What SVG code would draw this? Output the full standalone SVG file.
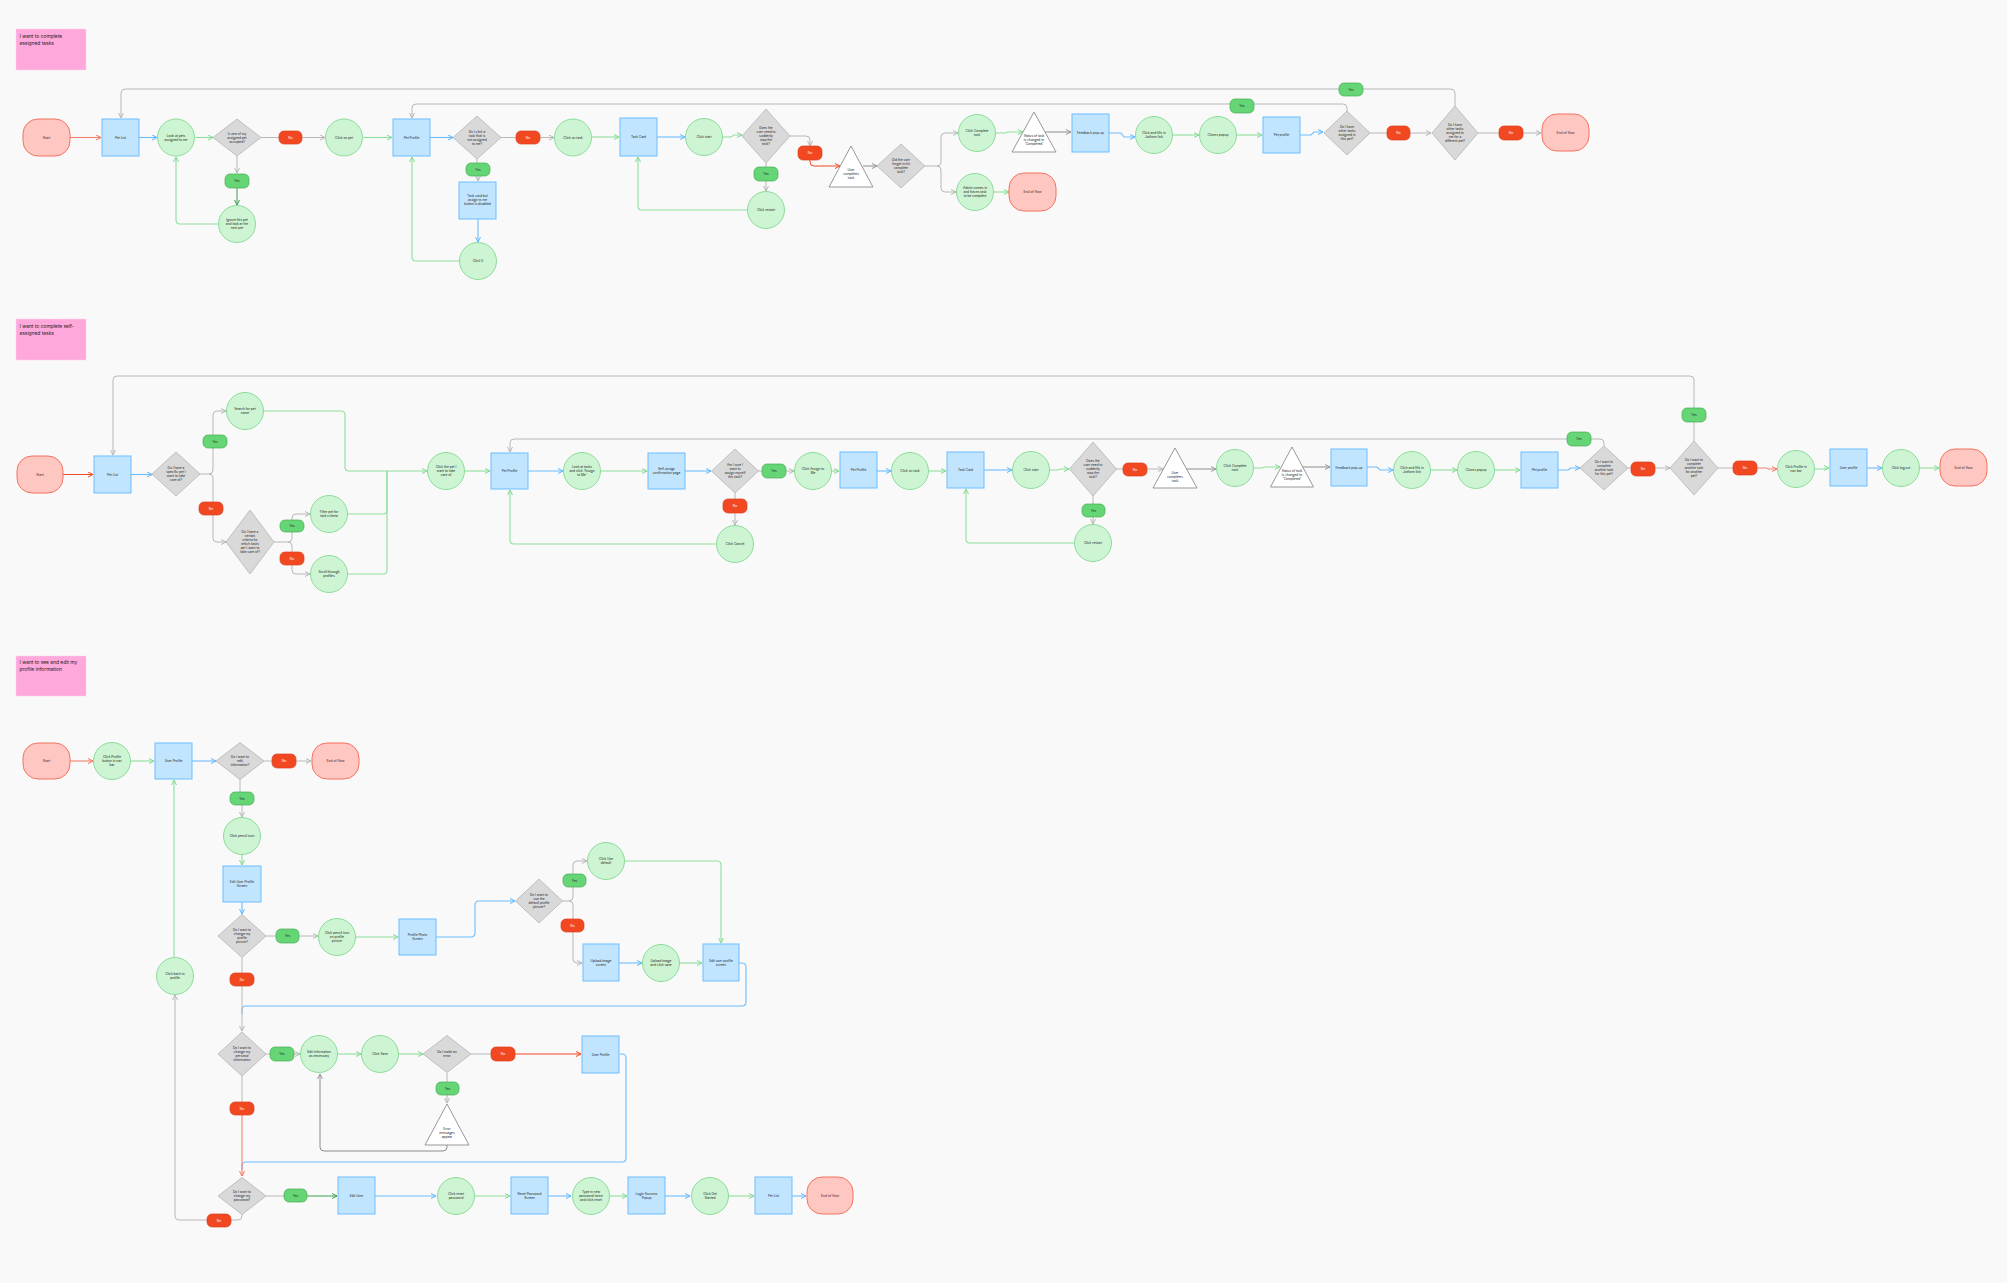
<svg xmlns="http://www.w3.org/2000/svg" width="2007" height="1283" viewBox="0 0 2007 1283">
<style>
.bg{fill:#F9F9F9}
.sticky{fill:#FFA8DB;stroke:#FFD0EC;stroke-width:0.8;stroke-dasharray:1.5 1}
.term{fill:#FFC7C2;stroke:#F4735F;stroke-width:1}
.scr{fill:#C2E5FF;stroke:#6CBDFF;stroke-width:1}
.act{fill:#CDF4D3;stroke:#8CDD9A;stroke-width:1}
.dec{fill:#D9D9D9;stroke:#B5B5B5;stroke-width:0.8}
.tri{fill:#FFFFFF;stroke:#8C8C8C;stroke-width:0.9}
.yes{fill:#66D575;stroke:#45AE54;stroke-width:0.7}
.no{fill:#F24822;stroke:#DC3F1E;stroke-width:0.7}
.t{font-family:Inter,"Noto Sans",sans-serif;font-size:3.2px;fill:#1E1E1E;text-anchor:middle}
.tt{font-family:Inter,"Noto Sans",sans-serif;font-size:3.4px;fill:#3A1E2A;text-anchor:middle}
.tw{font-family:Inter,"Noto Sans",sans-serif;font-size:3.2px;fill:#FFFFFF;text-anchor:middle}
.ts{font-family:Inter,"Noto Sans",sans-serif;font-size:4.9px;fill:#2A1A24}
.cg{fill:none;stroke:#B8B8B8;stroke-width:1}
.cd{fill:none;stroke:#8E8E8E;stroke-width:1}
.cb{fill:none;stroke:#6CBDFF;stroke-width:1.1}
.cgr{fill:none;stroke:#8FE09D;stroke-width:1.1}
.cr{fill:none;stroke:#F24822;stroke-width:1}
.cc{fill:none;stroke:#F4806E;stroke-width:1.1}
.cdg{fill:none;stroke:#3E9E4D;stroke-width:1}
</style>
<defs>
<marker id="ag" viewBox="0 0 6 6" refX="5.5" refY="3" markerWidth="6" markerHeight="6" markerUnits="userSpaceOnUse" orient="auto"><path d="M0.5,0.5 L5.5,3 L0.5,5.5" fill="none" stroke="#B0B0B0" stroke-width="0.9"/></marker>
<marker id="ad" viewBox="0 0 6 6" refX="5.5" refY="3" markerWidth="6" markerHeight="6" markerUnits="userSpaceOnUse" orient="auto"><path d="M0.5,0.5 L5.5,3 L0.5,5.5" fill="none" stroke="#8E8E8E" stroke-width="0.9"/></marker>
<marker id="ab" viewBox="0 0 6 6" refX="5.5" refY="3" markerWidth="6" markerHeight="6" markerUnits="userSpaceOnUse" orient="auto"><path d="M0.5,0.5 L5.5,3 L0.5,5.5" fill="none" stroke="#5DB5FF" stroke-width="1"/></marker>
<marker id="agr" viewBox="0 0 6 6" refX="5.5" refY="3" markerWidth="6" markerHeight="6" markerUnits="userSpaceOnUse" orient="auto"><path d="M0.5,0.5 L5.5,3 L0.5,5.5" fill="none" stroke="#7FD98F" stroke-width="1"/></marker>
<marker id="ar" viewBox="0 0 6 6" refX="5.5" refY="3" markerWidth="6" markerHeight="6" markerUnits="userSpaceOnUse" orient="auto"><path d="M0.5,0.5 L5.5,3 L0.5,5.5" fill="none" stroke="#F24822" stroke-width="1"/></marker>
<marker id="ac" viewBox="0 0 6 6" refX="5.5" refY="3" markerWidth="6" markerHeight="6" markerUnits="userSpaceOnUse" orient="auto"><path d="M0.5,0.5 L5.5,3 L0.5,5.5" fill="none" stroke="#F4735F" stroke-width="1"/></marker>
<marker id="adg" viewBox="0 0 6 6" refX="5.5" refY="3" markerWidth="6" markerHeight="6" markerUnits="userSpaceOnUse" orient="auto"><path d="M0.5,0.5 L5.5,3 L0.5,5.5" fill="none" stroke="#3E9E4D" stroke-width="1"/></marker>
</defs>
<rect class="bg" x="0" y="0" width="2007" height="1283"/>

<g id="connectors">
<!-- Row 1 -->
<path class="cc" d="M70,137.5 H101" marker-end="url(#ac)"/>
<path class="cb" d="M139,137.5 H157" marker-end="url(#ab)"/>
<path class="cgr" d="M195,137.5 H213" marker-end="url(#agr)"/>
<path class="cg" d="M261,137.5 H279"/>
<path class="cg" d="M302,137.5 H325" marker-end="url(#ag)"/>
<path class="cgr" d="M363,137.5 H392" marker-end="url(#agr)"/>
<path class="cb" d="M430,137.5 H453" marker-end="url(#ab)"/>
<path class="cg" d="M501,137.5 H516"/>
<path class="cg" d="M540,137.5 H554" marker-end="url(#ag)"/>
<path class="cgr" d="M592,137 H619" marker-end="url(#agr)"/>
<path class="cb" d="M657,137 H685" marker-end="url(#ab)"/>
<path class="cgr" d="M723,137 H731 L734,135 H742" marker-end="url(#agr)"/>
<path class="cg" d="M790,136 H806 Q810,136 810,140 V146" marker-end="url(#ag)"/>
<path class="cr" d="M810,160 V162 Q810,166 814,166 H840" marker-end="url(#ar)"/>
<path class="cd" d="M863,166 H877" marker-end="url(#ad)"/>
<path class="cg" d="M925,166 H937 Q941,166 941,162 V137 Q941,133 945,133 H958" marker-end="url(#ag)"/>
<path class="cg" d="M937,166 Q941,166 941,170 V188 Q941,192 945,192 H956" marker-end="url(#ag)"/>
<path class="cgr" d="M994,192 H1009" marker-end="url(#agr)"/>
<path class="cgr" d="M996,133 H1005 L1008,132 H1023" marker-end="url(#agr)"/>
<path class="cd" d="M1045,132 H1071" marker-end="url(#ad)"/>
<path class="cb" d="M1109,133 H1121 L1124,137 H1135" marker-end="url(#ab)"/>
<path class="cgr" d="M1173,135 H1199" marker-end="url(#agr)"/>
<path class="cgr" d="M1237,135 H1262" marker-end="url(#agr)"/>
<path class="cb" d="M1300,135 H1311 L1314,132 H1323" marker-end="url(#ab)"/>
<path class="cg" d="M1370,133 H1387"/>
<path class="cg" d="M1410,133 H1431" marker-end="url(#ag)"/>
<path class="cg" d="M1478,133 H1499"/>
<path class="cg" d="M1523,133 H1541" marker-end="url(#ag)"/>
<path class="cg" d="M1347,111 V108 Q1347,104 1343,104 H416 Q412,104 412,108 V118" marker-end="url(#ag)"/>
<path class="cg" d="M1455,106 V93 Q1455,89 1451,89 H125 Q121,89 121,93 V118" marker-end="url(#ag)"/>
<path class="cg" d="M237,156 V173" marker-end="url(#ag)"/>
<path class="cdg" d="M237,188 V205" marker-end="url(#adg)"/>
<path class="cgr" d="M218,224 H180 Q176,224 176,220 V157" marker-end="url(#agr)"/>
<path class="cg" d="M477,159 V163"/>
<path class="cg" d="M478,176 V181" marker-end="url(#ag)"/>
<path class="cb" d="M478,219 V242" marker-end="url(#ab)"/>
<path class="cgr" d="M459,261 H416 Q412,261 412,257 V157" marker-end="url(#agr)"/>
<path class="cg" d="M766,163 V167"/>
<path class="cg" d="M766,181 V191" marker-end="url(#ag)"/>
<path class="cgr" d="M747,210 H642 Q638,210 638,206 V157" marker-end="url(#agr)"/>

<!-- Row 2 -->
<path class="cr" d="M63,474.5 H93" marker-end="url(#ar)"/>
<path class="cb" d="M131,474.5 H152" marker-end="url(#ab)"/>
<path class="cg" d="M200,474 H209 Q213,474 213,470 V415 Q213,411 217,411 H226" marker-end="url(#ag)"/>
<path class="cg" d="M209,474 Q213,474 213,478 V538 Q213,542 217,542 H226" marker-end="url(#ag)"/>
<path class="cg" d="M274,542 H288 Q292,542 292,538 V518 Q292,514 296,514 H310" marker-end="url(#ag)"/>
<path class="cg" d="M288,542 Q292,542 292,546 V570 Q292,574 296,574 H310" marker-end="url(#ag)"/>
<path class="cgr" d="M264,411 H341 Q345,411 345,415 V467 Q345,471 349,471 H427" marker-end="url(#agr)"/>
<path class="cgr" d="M348,514 H383 Q387,514 387,510 V471"/>
<path class="cgr" d="M348,574 H383 Q387,574 387,570 V471"/>
<path class="cgr" d="M465,471 H490" marker-end="url(#agr)"/>
<path class="cb" d="M528,471 H563" marker-end="url(#ab)"/>
<path class="cgr" d="M601,471 H647" marker-end="url(#agr)"/>
<path class="cb" d="M685,471 H711" marker-end="url(#ab)"/>
<path class="cg" d="M758,471 H762"/>
<path class="cg" d="M786,471 H794" marker-end="url(#ag)"/>
<path class="cgr" d="M832,471 H839" marker-end="url(#agr)"/>
<path class="cb" d="M877,471 H891" marker-end="url(#ab)"/>
<path class="cgr" d="M929,471 H946" marker-end="url(#agr)"/>
<path class="cb" d="M984,470 H1012" marker-end="url(#ab)"/>
<path class="cgr" d="M1050,470 H1058 L1061,469 H1069" marker-end="url(#agr)"/>
<path class="cg" d="M1116,469 H1123"/>
<path class="cg" d="M1147,469 H1163" marker-end="url(#ag)"/>
<path class="cd" d="M1186,469 H1216" marker-end="url(#ad)"/>
<path class="cgr" d="M1254,468 H1262 L1265,467 H1280" marker-end="url(#agr)"/>
<path class="cd" d="M1303,467 H1330" marker-end="url(#ad)"/>
<path class="cb" d="M1367,467 H1377 L1380,470 H1393" marker-end="url(#ab)"/>
<path class="cgr" d="M1431,470 H1457" marker-end="url(#agr)"/>
<path class="cgr" d="M1495,470 H1520" marker-end="url(#agr)"/>
<path class="cb" d="M1558,470 H1568 L1571,468 H1580" marker-end="url(#ab)"/>
<path class="cg" d="M1628,468 H1631"/>
<path class="cg" d="M1655,468 H1670" marker-end="url(#ag)"/>
<path class="cg" d="M1718,468 H1733"/>
<path class="cc" d="M1757,468 H1766 L1769,469 H1777" marker-end="url(#ac)"/>
<path class="cgr" d="M1815,469 H1823 L1826,468 H1829" marker-end="url(#agr)"/>
<path class="cb" d="M1867,468 H1882" marker-end="url(#ab)"/>
<path class="cgr" d="M1920,468 H1939" marker-end="url(#agr)"/>
<path class="cg" d="M1604,446 V443 Q1604,439 1600,439 H514 Q510,439 510,443 V452" marker-end="url(#ag)"/>
<path class="cg" d="M1694,441 V380 Q1694,376 1690,376 H117 Q113,376 113,380 V455" marker-end="url(#ag)"/>
<path class="cg" d="M735,493 V499"/>
<path class="cg" d="M735,513 V525" marker-end="url(#ag)"/>
<path class="cgr" d="M716,544 H514 Q510,544 510,540 V490" marker-end="url(#agr)"/>
<path class="cg" d="M1093,496 V504"/>
<path class="cg" d="M1093,517 V524" marker-end="url(#ag)"/>
<path class="cgr" d="M1074,543 H970 Q966,543 966,539 V489" marker-end="url(#agr)"/>

<!-- Row 3 -->
<path class="cc" d="M70,761 H93" marker-end="url(#ac)"/>
<path class="cgr" d="M131,761 H154" marker-end="url(#agr)"/>
<path class="cb" d="M192,761 H216" marker-end="url(#ab)"/>
<path class="cg" d="M264,761 H272"/>
<path class="cg" d="M296,761 H311" marker-end="url(#ag)"/>
<path class="cg" d="M240,779 V792"/>
<path class="cg" d="M242,805 V817" marker-end="url(#ag)"/>
<path class="cgr" d="M242,855 V865" marker-end="url(#agr)"/>
<path class="cb" d="M242,902 V914" marker-end="url(#ab)"/>
<path class="cg" d="M266,936 H276"/>
<path class="cg" d="M299,936 H318" marker-end="url(#ag)"/>
<path class="cgr" d="M356,937 H398" marker-end="url(#agr)"/>
<path class="cb" d="M436,937 H471 Q475,937 475,933 V905 Q475,901 479,901 H515" marker-end="url(#ab)"/>
<path class="cg" d="M562,901 H569 Q573,901 573,897 V865 Q573,861 577,861 H587" marker-end="url(#ag)"/>
<path class="cg" d="M569,901 Q573,901 573,905 V959 Q573,963 577,963 H582" marker-end="url(#ag)"/>
<path class="cgr" d="M625,861 H717 Q721,861 721,865 V943" marker-end="url(#agr)"/>
<path class="cb" d="M619,963 H642" marker-end="url(#ab)"/>
<path class="cgr" d="M680,963 H702" marker-end="url(#agr)"/>
<path class="cb" d="M739,963 H742 Q746,963 746,967 V1002 Q746,1006 742,1006 H246 Q242,1006 242,1010 V1014"/>
<path class="cg" d="M242,958 V973"/>
<path class="cg" d="M242,986 V1031" marker-end="url(#ag)"/>
<path class="cg" d="M266,1054 H270"/>
<path class="cg" d="M294,1054 H300" marker-end="url(#ag)"/>
<path class="cgr" d="M337,1054 H361" marker-end="url(#agr)"/>
<path class="cgr" d="M398,1054 H423" marker-end="url(#agr)"/>
<path class="cg" d="M471,1054 H491"/>
<path class="cr" d="M515,1054 H581" marker-end="url(#ar)"/>
<path class="cb" d="M620,1054 H622 Q626,1054 626,1058 V1158 Q626,1162 622,1162 H246 Q242,1162 242,1166 V1170"/>
<path class="cg" d="M447,1073 V1082"/>
<path class="cg" d="M447,1095 V1103" marker-end="url(#ag)"/>
<path class="cd" d="M447,1145 V1147 Q447,1151 443,1151 H324 Q320,1151 320,1147 V1074" marker-end="url(#ad)"/>
<path class="cg" d="M242,1076 V1102"/>
<path class="cc" d="M242,1115 V1176" marker-end="url(#ac)"/>
<path class="cg" d="M266,1196 H284"/>
<path class="cdg" d="M307,1196 H337" marker-end="url(#adg)"/>
<path class="cb" d="M375,1196 H436" marker-end="url(#ab)"/>
<path class="cgr" d="M475,1196 H510" marker-end="url(#agr)"/>
<path class="cb" d="M548,1196 H571" marker-end="url(#ab)"/>
<path class="cgr" d="M610,1196 H627" marker-end="url(#agr)"/>
<path class="cb" d="M665,1196 H690" marker-end="url(#ab)"/>
<path class="cgr" d="M729,1196 H754" marker-end="url(#agr)"/>
<path class="cb" d="M792,1196 H806" marker-end="url(#ab)"/>
<path class="cg" d="M242,1214 V1216 Q242,1220 238,1220 H231"/>
<path class="cg" d="M207,1220 H179 Q175,1220 175,1216 V995" marker-end="url(#ag)"/>
<path class="cgr" d="M174,957 V780" marker-end="url(#agr)"/>
</g>

<!-- ROW 1 -->
<g id="note1"><rect class="sticky" x="16" y="29" width="70" height="41"/><text class="ts" x="19.5" y="38">I want to complete</text><text class="ts" x="19.5" y="45">assigned tasks</text></g>
<g id="r1-start"><rect class="term" x="23" y="119" width="47" height="37" rx="15"/><text class="tt" x="46.5" y="138.6">Start</text></g>
<g id="r1-petlist"><rect class="scr" x="102" y="119" width="37" height="37"/><text class="t" x="120.5" y="138.6">Pet List</text></g>
<g id="r1-look"><circle class="act" cx="176" cy="137.5" r="18.5"/><text class="t"><tspan x="176" y="136.6">Look at pets</tspan><tspan x="176" y="140.6">assigned to me</tspan></text></g>
<g id="r1-d1"><polygon class="dec" points="213,137.5 237,119 261,137.5 237,156"/><text class="t"><tspan x="237" y="134.6">Is one of my</tspan><tspan x="237" y="138.6">assigned pet</tspan><tspan x="237" y="142.6">occupied?</tspan></text></g>
<g id="r1-no1"><rect class="no" x="279" y="131" width="23" height="13" rx="5"/><text class="tw" x="290.5" y="138.6">No</text></g>
<g id="r1-clickpet"><circle class="act" cx="344" cy="137.5" r="18.5"/><text class="t" x="344" y="138.6">Click on pet</text></g>
<g id="r1-petprofile"><rect class="scr" x="393" y="119" width="37" height="37"/><text class="t" x="411.5" y="138.6">Pet Profile</text></g>
<g id="r1-d2"><polygon class="dec" points="453,137.5 477,116 501,137.5 477,159"/><text class="t"><tspan x="477" y="132.6">Do I click a</tspan><tspan x="477" y="136.6">task that is</tspan><tspan x="477" y="140.6">not assigned</tspan><tspan x="477" y="144.6">to me?</tspan></text></g>
<g id="r1-yes2"><rect class="yes" x="466" y="163" width="24" height="13" rx="5"/><text class="t" x="478" y="170.6">Yes</text></g>
<g id="r1-disabled"><rect class="scr" x="459" y="182" width="37" height="37"/><text class="t"><tspan x="477.5" y="197.1">Task card but</tspan><tspan x="477.5" y="201.1">assign to me</tspan><tspan x="477.5" y="205.1">button is disabled</tspan></text></g>
<g id="r1-clickx"><circle class="act" cx="478" cy="261" r="18.5"/><text class="t" x="478" y="262.1">Click X</text></g>
<g id="r1-yes1"><rect class="yes" x="225" y="174" width="24" height="14" rx="5"/><text class="t" x="237" y="182.1">Yes</text></g>
<g id="r1-ignore"><circle class="act" cx="237" cy="224" r="18.5"/><text class="t"><tspan x="237" y="221.1">Ignore this pet</tspan><tspan x="237" y="225.1">and look at the</tspan><tspan x="237" y="229.1">next pet</tspan></text></g>
<g id="r1-no2"><rect class="no" x="516" y="131" width="24" height="13" rx="5"/><text class="tw" x="528" y="138.6">No</text></g>
<g id="r1-clicktask"><circle class="act" cx="573" cy="137.5" r="18.5"/><text class="t" x="573" y="138.6">Click on task</text></g>
<g id="r1-taskcard"><rect class="scr" x="620" y="118" width="37" height="38"/><text class="t" x="638.5" y="138.1">Task Card</text></g>
<g id="r1-clickstart"><circle class="act" cx="704" cy="137" r="18.5"/><text class="t" x="704" y="138.1">Click start</text></g>
<g id="r1-d3"><polygon class="dec" points="742,136 766,109 790,136 766,163"/><text class="t"><tspan x="766" y="129.1">Does the</tspan><tspan x="766" y="133.1">user need to</tspan><tspan x="766" y="137.1">suddenly</tspan><tspan x="766" y="141.1">stop the</tspan><tspan x="766" y="145.1">task?</tspan></text></g>
<g id="r1-no3"><rect class="no" x="798" y="146" width="24" height="14" rx="5"/><text class="tw" x="810" y="154.1">No</text></g>
<g id="r1-yes3"><rect class="yes" x="754" y="167" width="24" height="14" rx="5"/><text class="t" x="766" y="175.1">Yes</text></g>
<g id="r1-restart"><circle class="act" cx="766" cy="210" r="18.5"/><text class="t" x="766" y="211.1">Click restart</text></g>
<g id="r1-tri1"><polygon class="tri" points="851,146 873,187 829,187" stroke-linejoin="round"/><text class="t"><tspan x="851" y="171.1">User</tspan><tspan x="851" y="175.1">completes</tspan><tspan x="851" y="179.1">task</tspan></text></g>
<g id="r1-d4"><polygon class="dec" points="877,166 901,144 925,166 901,188"/><text class="t"><tspan x="901" y="161.1">Did the user</tspan><tspan x="901" y="165.1">forget to hit</tspan><tspan x="901" y="169.1">complete</tspan><tspan x="901" y="173.1">task?</tspan></text></g>
<g id="r1-complete"><circle class="act" cx="977" cy="133" r="18.5"/><text class="t"><tspan x="977" y="132.1">Click Complete</tspan><tspan x="977" y="136.1">task</tspan></text></g>
<g id="r1-admin"><circle class="act" cx="975" cy="192" r="18.5"/><text class="t"><tspan x="975" y="189.1">Admin comes in</tspan><tspan x="975" y="193.1">and forces task</tspan><tspan x="975" y="197.1">to be complete</tspan></text></g>
<g id="r1-end1"><rect class="term" x="1009" y="173" width="47" height="38" rx="15"/><text class="tt" x="1032.5" y="193.1">End of flow</text></g>
<g id="r1-tri2"><polygon class="tri" points="1034,112 1056,152 1012,152" stroke-linejoin="round"/><text class="t"><tspan x="1034" y="137.1">Status of task</tspan><tspan x="1034" y="141.1">is changed to</tspan><tspan x="1034" y="145.1">'Completed'</tspan></text></g>
<g id="r1-feedback"><rect class="scr" x="1072" y="114" width="37" height="38"/><text class="t" x="1090.5" y="134.1">Feedback pop-up</text></g>
<g id="r1-form"><circle class="act" cx="1154" cy="135" r="18.5"/><text class="t"><tspan x="1154" y="134.1">Click and fills in</tspan><tspan x="1154" y="138.1">Jotform link</tspan></text></g>
<g id="r1-closes"><circle class="act" cx="1218" cy="135" r="18.5"/><text class="t" x="1218" y="136.1">Closes popup</text></g>
<g id="r1-petprofile2"><rect class="scr" x="1263" y="117" width="37" height="36"/><text class="t" x="1281.5" y="136.1">Pet profile</text></g>
<g id="r1-d5"><polygon class="dec" points="1324,133 1347,111 1370,133 1347,155"/><text class="t"><tspan x="1347" y="128.1">Do I have</tspan><tspan x="1347" y="132.1">other tasks</tspan><tspan x="1347" y="136.1">assigned in</tspan><tspan x="1347" y="140.1">this pet?</tspan></text></g>
<g id="r1-yes4"><rect class="yes" x="1230" y="99" width="24" height="14" rx="5"/><text class="t" x="1242" y="107.1">Yes</text></g>
<g id="r1-no5"><rect class="no" x="1387" y="126" width="23" height="14" rx="5"/><text class="tw" x="1398.5" y="134.1">No</text></g>
<g id="r1-d6"><polygon class="dec" points="1432,133 1455,106 1478,133 1455,160"/><text class="t"><tspan x="1455" y="126.1">Do I have</tspan><tspan x="1455" y="130.1">other tasks</tspan><tspan x="1455" y="134.1">assigned to</tspan><tspan x="1455" y="138.1">me for a</tspan><tspan x="1455" y="142.1">different pet?</tspan></text></g>
<g id="r1-yes5"><rect class="yes" x="1339" y="83" width="24" height="13" rx="5"/><text class="t" x="1351" y="90.6">Yes</text></g>
<g id="r1-no6"><rect class="no" x="1499" y="126" width="24" height="14" rx="5"/><text class="tw" x="1511" y="134.1">No</text></g>
<g id="r1-end2"><rect class="term" x="1542" y="114" width="47" height="37" rx="15"/><text class="tt" x="1565.5" y="133.6">End of flow</text></g>

<!-- ROW 2 -->
<g id="note2"><rect class="sticky" x="16" y="319" width="70" height="41"/><text class="ts" x="19.5" y="328">I want to complete self-</text><text class="ts" x="19.5" y="335">assigned tasks</text></g>
<g id="r2-start"><rect class="term" x="17" y="456" width="46" height="37" rx="15"/><text class="tt" x="40" y="475.6">Start</text></g>
<g id="r2-petlist"><rect class="scr" x="94" y="456" width="37" height="37"/><text class="t" x="112.5" y="475.6">Pet List</text></g>
<g id="r2-d1"><polygon class="dec" points="152,474 176,452 200,474 176,496"/><text class="t"><tspan x="176" y="469.1">Do I have a</tspan><tspan x="176" y="473.1">specific pet I</tspan><tspan x="176" y="477.1">want to take</tspan><tspan x="176" y="481.1">care of?</tspan></text></g>
<g id="r2-yes1"><rect class="yes" x="203" y="435" width="24" height="13" rx="5"/><text class="t" x="215" y="442.6">Yes</text></g>
<g id="r2-search"><circle class="act" cx="245" cy="411" r="18.5"/><text class="t"><tspan x="245" y="410.1">Search for pet</tspan><tspan x="245" y="414.1">name</tspan></text></g>
<g id="r2-no1"><rect class="no" x="199" y="502" width="24" height="13" rx="5"/><text class="tw" x="211" y="509.6">No</text></g>
<g id="r2-d2"><polygon class="dec" points="226,542 250,510 274,542 250,574"/><text class="t"><tspan x="250" y="533.1">Do I have a</tspan><tspan x="250" y="537.1">certain</tspan><tspan x="250" y="541.1">criteria for</tspan><tspan x="250" y="545.1">which tasks</tspan><tspan x="250" y="549.1">pet I want to</tspan><tspan x="250" y="553.1">take care of?</tspan></text></g>
<g id="r2-yes2"><rect class="yes" x="280" y="520" width="24" height="12" rx="5"/><text class="t" x="292" y="527.1">Yes</text></g>
<g id="r2-filter"><circle class="act" cx="329" cy="514" r="18.5"/><text class="t"><tspan x="329" y="513.1">Filter pet for</tspan><tspan x="329" y="517.1">task criteria</tspan></text></g>
<g id="r2-no2"><rect class="no" x="280" y="552" width="24" height="13" rx="5"/><text class="tw" x="292" y="559.6">No</text></g>
<g id="r2-scroll"><circle class="act" cx="329" cy="574" r="18.5"/><text class="t"><tspan x="329" y="573.1">Scroll through</tspan><tspan x="329" y="577.1">profiles</tspan></text></g>
<g id="r2-clickpet"><circle class="act" cx="446" cy="471" r="18.5"/><text class="t"><tspan x="446" y="468.1">Click the pet I</tspan><tspan x="446" y="472.1">want to take</tspan><tspan x="446" y="476.1">care of</tspan></text></g>
<g id="r2-petprofile"><rect class="scr" x="491" y="453" width="37" height="36"/><text class="t" x="509.5" y="472.1">Pet Profile</text></g>
<g id="r2-look"><circle class="act" cx="582" cy="471" r="18.5"/><text class="t"><tspan x="582" y="468.1">Look at tasks</tspan><tspan x="582" y="472.1">and click 'Assign</tspan><tspan x="582" y="476.1">to Me'</tspan></text></g>
<g id="r2-confirm"><rect class="scr" x="648" y="453" width="37" height="36"/><text class="t"><tspan x="666.5" y="470.1">Self-assign</tspan><tspan x="666.5" y="474.1">confirmation page</tspan></text></g>
<g id="r2-d3"><polygon class="dec" points="711.5,471 735,449 758.5,471 735,493"/><text class="t"><tspan x="735" y="466.1">Am I sure I</tspan><tspan x="735" y="470.1">want to</tspan><tspan x="735" y="474.1">assign myself</tspan><tspan x="735" y="478.1">this task?</tspan></text></g>
<g id="r2-yes3"><rect class="yes" x="762" y="464" width="24" height="14" rx="5"/><text class="t" x="774" y="472.1">Yes</text></g>
<g id="r2-assign"><circle class="act" cx="813" cy="471" r="18.5"/><text class="t"><tspan x="813" y="470.1">Click Assign to</tspan><tspan x="813" y="474.1">Me</tspan></text></g>
<g id="r2-no3"><rect class="no" x="723" y="499" width="24" height="14" rx="5"/><text class="tw" x="735" y="507.1">No</text></g>
<g id="r2-cancel"><circle class="act" cx="735" cy="544" r="18.5"/><text class="t" x="735" y="545.1">Click Cancel</text></g>
<g id="r2-petprofile2"><rect class="scr" x="840" y="452" width="37" height="36"/><text class="t" x="858.5" y="471.1">Pet Profile</text></g>
<g id="r2-clicktask"><circle class="act" cx="910" cy="471" r="18.5"/><text class="t" x="910" y="472.1">Click on task</text></g>
<g id="r2-taskcard"><rect class="scr" x="947" y="452" width="37" height="36"/><text class="t" x="965.5" y="471.1">Task Card</text></g>
<g id="r2-clickstart"><circle class="act" cx="1031" cy="470" r="18.5"/><text class="t" x="1031" y="471.1">Click start</text></g>
<g id="r2-d4"><polygon class="dec" points="1069.5,469 1093,442 1116.5,469 1093,496"/><text class="t"><tspan x="1093" y="462.1">Does the</tspan><tspan x="1093" y="466.1">user need to</tspan><tspan x="1093" y="470.1">suddenly</tspan><tspan x="1093" y="474.1">stop the</tspan><tspan x="1093" y="478.1">task?</tspan></text></g>
<g id="r2-no4"><rect class="no" x="1123" y="463" width="24" height="13" rx="5"/><text class="tw" x="1135" y="470.6">No</text></g>
<g id="r2-yes4"><rect class="yes" x="1082" y="504" width="23" height="13" rx="5"/><text class="t" x="1093.5" y="511.6">Yes</text></g>
<g id="r2-restart"><circle class="act" cx="1093" cy="543" r="18.5"/><text class="t" x="1093" y="544.1">Click restart</text></g>
<g id="r2-tri1"><polygon class="tri" points="1175,448 1197,488 1153,488" stroke-linejoin="round"/><text class="t"><tspan x="1175" y="474.1">User</tspan><tspan x="1175" y="478.1">completes</tspan><tspan x="1175" y="482.1">task</tspan></text></g>
<g id="r2-complete"><circle class="act" cx="1235" cy="468" r="18.5"/><text class="t"><tspan x="1235" y="467.1">Click Complete</tspan><tspan x="1235" y="471.1">task</tspan></text></g>
<g id="r2-tri2"><polygon class="tri" points="1292,447 1313.5,487 1270.5,487" stroke-linejoin="round"/><text class="t"><tspan x="1292" y="472.1">Status of task</tspan><tspan x="1292" y="476.1">is changed to</tspan><tspan x="1292" y="480.1">'Completed'</tspan></text></g>
<g id="r2-feedback"><rect class="scr" x="1331" y="449" width="36" height="37"/><text class="t" x="1349" y="468.6">Feedback pop-up</text></g>
<g id="r2-form"><circle class="act" cx="1412" cy="470" r="18.5"/><text class="t"><tspan x="1412" y="469.1">Click and fills in</tspan><tspan x="1412" y="473.1">Jotform link</tspan></text></g>
<g id="r2-closes"><circle class="act" cx="1476" cy="470" r="18.5"/><text class="t" x="1476" y="471.1">Closes popup</text></g>
<g id="r2-petprofile3"><rect class="scr" x="1521" y="452" width="37" height="36"/><text class="t" x="1539.5" y="471.1">Pet profile</text></g>
<g id="r2-d5"><polygon class="dec" points="1580,468 1604,446 1628,468 1604,490"/><text class="t"><tspan x="1604" y="463.1">Do I want to</tspan><tspan x="1604" y="467.1">complete</tspan><tspan x="1604" y="471.1">another task</tspan><tspan x="1604" y="475.1">for this pet?</tspan></text></g>
<g id="r2-yes5"><rect class="yes" x="1567" y="432" width="24" height="14" rx="5"/><text class="t" x="1579" y="440.1">Yes</text></g>
<g id="r2-no5"><rect class="no" x="1631" y="462" width="24" height="14" rx="5"/><text class="tw" x="1643" y="470.1">No</text></g>
<g id="r2-d6"><polygon class="dec" points="1670,468 1694,441 1718,468 1694,495"/><text class="t"><tspan x="1694" y="461.1">Do I want to</tspan><tspan x="1694" y="465.1">complete</tspan><tspan x="1694" y="469.1">another task</tspan><tspan x="1694" y="473.1">for another</tspan><tspan x="1694" y="477.1">pet?</tspan></text></g>
<g id="r2-yes6"><rect class="yes" x="1682" y="408" width="24" height="14" rx="5"/><text class="t" x="1694" y="416.1">Yes</text></g>
<g id="r2-no6"><rect class="no" x="1733" y="461" width="24" height="14" rx="5"/><text class="tw" x="1745" y="469.1">No</text></g>
<g id="r2-navprofile"><circle class="act" cx="1796" cy="469" r="18.5"/><text class="t"><tspan x="1796" y="468.1">Click Profile in</tspan><tspan x="1796" y="472.1">nav bar</tspan></text></g>
<g id="r2-userprofile"><rect class="scr" x="1830" y="449" width="37" height="37"/><text class="t" x="1848.5" y="468.6">User profile</text></g>
<g id="r2-logout"><circle class="act" cx="1901" cy="468" r="18.5"/><text class="t" x="1901" y="469.1">Click log out</text></g>
<g id="r2-end"><rect class="term" x="1940" y="449" width="47" height="37" rx="15"/><text class="tt" x="1963.5" y="468.6">End of flow</text></g>

<!-- ROW 3 -->
<g id="note3"><rect class="sticky" x="16" y="656" width="70" height="40"/><text class="ts" x="19.5" y="664">I want to see and edit my</text><text class="ts" x="19.5" y="671">profile information</text></g>
<g id="r3-start"><rect class="term" x="23" y="743" width="47" height="36" rx="15"/><text class="tt" x="46.5" y="762.1">Start</text></g>
<g id="r3-navbtn"><circle class="act" cx="112" cy="761" r="18.5"/><text class="t"><tspan x="112" y="758.1">Click Profile</tspan><tspan x="112" y="762.1">button in nav</tspan><tspan x="112" y="766.1">bar</tspan></text></g>
<g id="r3-userprofile"><rect class="scr" x="155" y="743" width="37" height="36"/><text class="t" x="173.5" y="762.1">User Profile</text></g>
<g id="r3-d1"><polygon class="dec" points="216,761 240,742.5 264,761 240,779.5"/><text class="t"><tspan x="240" y="758.1">Do I want to</tspan><tspan x="240" y="762.1">edit</tspan><tspan x="240" y="766.1">information?</tspan></text></g>
<g id="r3-no1"><rect class="no" x="272" y="754" width="24" height="14" rx="5"/><text class="tw" x="284" y="762.1">No</text></g>
<g id="r3-end1"><rect class="term" x="312" y="743" width="47" height="36" rx="15"/><text class="tt" x="335.5" y="762.1">End of flow</text></g>
<g id="r3-yes1"><rect class="yes" x="230" y="792" width="24" height="13" rx="5"/><text class="t" x="242" y="799.6">Yes</text></g>
<g id="r3-pencil"><circle class="act" cx="242" cy="836" r="18.5"/><text class="t" x="242" y="837.1">Click pencil icon</text></g>
<g id="r3-editscreen"><rect class="scr" x="223" y="866" width="38" height="36"/><text class="t"><tspan x="242" y="883.1">Edit User Profile</tspan><tspan x="242" y="887.1">Screen</tspan></text></g>
<g id="r3-d2"><polygon class="dec" points="218,936 242,914.5 266,936 242,957.5"/><text class="t"><tspan x="242" y="931.1">Do I want to</tspan><tspan x="242" y="935.1">change my</tspan><tspan x="242" y="939.1">profile</tspan><tspan x="242" y="943.1">picture?</tspan></text></g>
<g id="r3-yes2"><rect class="yes" x="276" y="929" width="23" height="14" rx="5"/><text class="t" x="287.5" y="937.1">Yes</text></g>
<g id="r3-pencilpic"><circle class="act" cx="337" cy="937" r="18.5"/><text class="t"><tspan x="337" y="934.1">Click pencil icon</tspan><tspan x="337" y="938.1">on profile</tspan><tspan x="337" y="942.1">picture</tspan></text></g>
<g id="r3-photoscreen"><rect class="scr" x="399" y="919" width="37" height="36"/><text class="t"><tspan x="417.5" y="936.1">Profile Photo</tspan><tspan x="417.5" y="940.1">Screen</tspan></text></g>
<g id="r3-d3"><polygon class="dec" points="515.5,901 539,879 562.5,901 539,923"/><text class="t"><tspan x="539" y="896.1">Do I want to</tspan><tspan x="539" y="900.1">use the</tspan><tspan x="539" y="904.1">default profile</tspan><tspan x="539" y="908.1">picture?</tspan></text></g>
<g id="r3-yes3"><rect class="yes" x="563" y="874" width="23" height="13" rx="5"/><text class="t" x="574.5" y="881.6">Yes</text></g>
<g id="r3-usedefault"><circle class="act" cx="606" cy="861" r="18.5"/><text class="t"><tspan x="606" y="860.1">Click Use</tspan><tspan x="606" y="864.1">default</tspan></text></g>
<g id="r3-no2"><rect class="no" x="561" y="919" width="23" height="13" rx="5"/><text class="tw" x="572.5" y="926.6">No</text></g>
<g id="r3-uploadscreen"><rect class="scr" x="583" y="944" width="36" height="37"/><text class="t"><tspan x="601" y="961.6">Upload image</tspan><tspan x="601" y="965.6">screen</tspan></text></g>
<g id="r3-upload"><circle class="act" cx="661" cy="963" r="18.5"/><text class="t"><tspan x="661" y="962.1">Upload image</tspan><tspan x="661" y="966.1">and click save</tspan></text></g>
<g id="r3-editscreen2"><rect class="scr" x="703" y="944" width="36" height="37"/><text class="t"><tspan x="721" y="961.6">Edit user profile</tspan><tspan x="721" y="965.6">screen</tspan></text></g>
<g id="r3-no3"><rect class="no" x="230" y="973" width="24" height="13" rx="5"/><text class="tw" x="242" y="980.6">No</text></g>
<g id="r3-back"><circle class="act" cx="175" cy="976" r="18.5"/><text class="t"><tspan x="175" y="975.1">Click back to</tspan><tspan x="175" y="979.1">profile</tspan></text></g>
<g id="r3-d4"><polygon class="dec" points="218,1054 242,1032 266,1054 242,1076"/><text class="t"><tspan x="242" y="1049.1">Do I want to</tspan><tspan x="242" y="1053.1">change my</tspan><tspan x="242" y="1057.1">personal</tspan><tspan x="242" y="1061.1">information</tspan></text></g>
<g id="r3-yes4"><rect class="yes" x="270" y="1047" width="24" height="14" rx="5"/><text class="t" x="282" y="1055.1">Yes</text></g>
<g id="r3-editinfo"><circle class="act" cx="319" cy="1054" r="18.5"/><text class="t"><tspan x="319" y="1053.1">Edit information</tspan><tspan x="319" y="1057.1">as necessary</tspan></text></g>
<g id="r3-save"><circle class="act" cx="380" cy="1054" r="18.5"/><text class="t" x="380" y="1055.1">Click Save</text></g>
<g id="r3-d5"><polygon class="dec" points="423,1054 447,1035.5 471,1054 447,1072.5"/><text class="t"><tspan x="447" y="1053.1">Do I make an</tspan><tspan x="447" y="1057.1">error</tspan></text></g>
<g id="r3-no4"><rect class="no" x="491" y="1047" width="24" height="14" rx="5"/><text class="tw" x="503" y="1055.1">No</text></g>
<g id="r3-userprofile2"><rect class="scr" x="582" y="1036" width="37" height="37"/><text class="t" x="600.5" y="1055.6">User Profile</text></g>
<g id="r3-yes5"><rect class="yes" x="436" y="1082" width="23" height="13" rx="5"/><text class="t" x="447.5" y="1089.6">Yes</text></g>
<g id="r3-error"><polygon class="tri" points="447,1104 469,1145 425,1145" stroke-linejoin="round"/><text class="t"><tspan x="447" y="1130.1">Error</tspan><tspan x="447" y="1134.1">messages</tspan><tspan x="447" y="1138.1">appear</tspan></text></g>
<g id="r3-no5"><rect class="no" x="230" y="1102" width="24" height="13" rx="5"/><text class="tw" x="242" y="1109.6">No</text></g>
<g id="r3-d6"><polygon class="dec" points="218,1196 242,1177.5 266,1196 242,1214.5"/><text class="t"><tspan x="242" y="1193.1">Do I want to</tspan><tspan x="242" y="1197.1">change my</tspan><tspan x="242" y="1201.1">password?</tspan></text></g>
<g id="r3-yes6"><rect class="yes" x="284" y="1189" width="23" height="13" rx="5"/><text class="t" x="295.5" y="1196.6">Yes</text></g>
<g id="r3-no6"><rect class="no" x="207" y="1214" width="24" height="13" rx="5"/><text class="tw" x="219" y="1221.6">No</text></g>
<g id="r3-edituser"><rect class="scr" x="338" y="1177" width="37" height="37"/><text class="t" x="356.5" y="1196.6">Edit User</text></g>
<g id="r3-reset"><circle class="act" cx="456" cy="1196" r="18.5"/><text class="t"><tspan x="456" y="1195.1">Click reset</tspan><tspan x="456" y="1199.1">password</tspan></text></g>
<g id="r3-resetscreen"><rect class="scr" x="511" y="1177" width="37" height="37"/><text class="t"><tspan x="529.5" y="1194.6">Reset Password</tspan><tspan x="529.5" y="1198.6">Screen</tspan></text></g>
<g id="r3-typenew"><circle class="act" cx="591" cy="1196" r="18.5"/><text class="t"><tspan x="591" y="1193.1">Type in new</tspan><tspan x="591" y="1197.1">password twice</tspan><tspan x="591" y="1201.1">and click reset</tspan></text></g>
<g id="r3-login"><rect class="scr" x="628" y="1177" width="37" height="37"/><text class="t"><tspan x="646.5" y="1194.6">Login Success</tspan><tspan x="646.5" y="1198.6">Popup</tspan></text></g>
<g id="r3-getstarted"><circle class="act" cx="710" cy="1196" r="18.5"/><text class="t"><tspan x="710" y="1195.1">Click Get</tspan><tspan x="710" y="1199.1">Started</tspan></text></g>
<g id="r3-petlist"><rect class="scr" x="755" y="1177" width="37" height="37"/><text class="t" x="773.5" y="1196.6">Pet List</text></g>
<g id="r3-end2"><rect class="term" x="807" y="1177" width="46" height="37" rx="15"/><text class="tt" x="830" y="1196.6">End of flow</text></g>
</svg>
